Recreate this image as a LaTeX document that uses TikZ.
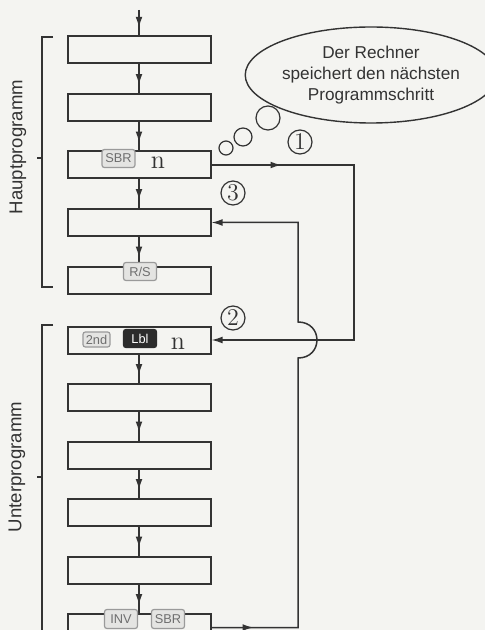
\documentclass[tikz,border=0pt]{standalone}
\usepackage{fontspec}
\setsansfont{Liberation Sans}
\usepackage{tikz}
\usetikzlibrary{arrows.meta,positioning,calc,shapes.geometric,decorations.markings}
\usepackage{xcolor}
\definecolor{Paper}{HTML}{F4F4F1}
\definecolor{Ink}{HTML}{333333}
\definecolor{KeyLine}{HTML}{9A9A9A}
\definecolor{KeyFill}{HTML}{E4E4E2}
\definecolor{KeyText}{HTML}{6E6E6E}
\definecolor{KeyDark}{HTML}{2C2C2C}

\begin{document}
\begin{tikzpicture}[x=0.5pt,y=-0.5pt,>={Latex[length=5.5pt,width=3.4pt]},
  color=Ink,line width=0.75pt,node distance=14.25pt,
  stepbox/.style={draw,rectangle,minimum width=71.5pt,minimum height=13.5pt,inner sep=0pt,line width=1pt},
  key/.style={draw=KeyLine,fill=KeyFill,text=KeyText,rounded corners=1.2pt,line width=0.6pt,
    minimum width=16.5pt,minimum height=9pt,inner sep=0.5pt,font=\sffamily\fontsize{6.4}{7}\selectfont},
  darkkey/.style={key,draw=KeyDark,fill=KeyDark,text=white},
  num/.style={circle,draw,minimum size=12pt,inner sep=0pt,line width=0.6pt,font=\large},
  puff/.style={circle,draw,inner sep=0pt,line width=0.6pt},
  arg/.style={font=\fontsize{13}{13}\selectfont,inner sep=0pt},
  side/.style={rotate=90,font=\sffamily\fontsize{9.3}{10}\selectfont},
  flow/.style={postaction={decorate},decoration={markings,mark=at position #1 with {\arrow{>}}}}]
  \path[use as bounding box,fill=Paper] (0,0) rectangle (485,630);
  % main program
  \node[stepbox] (b1) at (139,50) {};
  \node[stepbox,below=of b1] (b2) {};
  \node[stepbox,below=of b2] (b3) {};
  \node[stepbox,below=of b3] (b4) {};
  \node[stepbox,below=of b4] (b5) {};
  % subroutine
  \node[stepbox] (b6) at (139,340) {};
  \node[stepbox,below=of b6] (b7) {};
  \node[stepbox,below=of b7] (b8) {};
  \node[stepbox,below=of b8] (b9) {};
  \node[stepbox,below=of b9] (b10) {};
  \node[stepbox,below=of b10] (b11) {};
  \coordinate (start) at (139,10);
  \draw[flow=0.7] (start) -- (b1);
  \foreach \a/\b in {b1/b2,b2/b3,b3/b4,b4/b5,b6/b7,b7/b8,b8/b9,b9/b10,b10/b11}
    \draw[flow=0.72] (\a) -- (\b);
  \node[key] (sbrA) at (118.5,158.5) {SBR};
  \node[arg] (argA) at (158,163) {n};
  \node[key] (rs) at (140,271.5) {R/S};
  \node[key,minimum width=13.5pt,minimum height=7.5pt] (snd) at (96.5,339.5) {2nd};
  \node[darkkey] (lbl) at (140,338.5) {Lbl};
  \node[arg] (argB) at (178,344) {n};
  \node[key,minimum height=9.5pt] (inv) at (121,619) {INV};
  \node[key,minimum height=9.5pt] (sbrB) at (168,619) {SBR};
  % brackets
  \draw (53,37) -- (42,37) -- (42,287) -- (53,287);
  \draw (42,158) -- (37,158);
  \node[side] (haupt) at (18,147) {Hauptprogramm};
  \draw (53,325) -- (42,325) -- (42,640);
  \draw (42,477) -- (37,477);
  \node[side] (unter) at (17,467) {Unterprogramm};
  % jump out, jump back
  \draw[->,flow=35pt] (b3.east) -- ++(142.5,0) |- (b6.east);
  \coordinate (ret) at ($(b11.east)+(86.5,0)$);
  \draw[->,flow=21pt] (b11.east) -- (ret) -- ($(ret |- b6.east)+(0,18)$)
    to[out=0,in=0,looseness=1.8] ($(ret |- b6.east)+(0,-18)$) |- (b4.east);
  \node[num] (n1) at (300,142) {1};
  \node[num] (n2) at (233,318) {2};
  \node[num] (n3) at (233,193) {3};
  % thought bubble
  \node[ellipse,draw,line width=0.7pt,minimum width=111pt,minimum height=48pt,inner sep=0pt,align=center,
    font=\sffamily\fontsize{8.6}{10.5}\selectfont] (thought) at (371,75)
    {Der Rechner\\speichert den nächsten\\Programmschritt};
  \node[puff,minimum size=7pt] (p1) at (226,148) {};
  \node[puff,minimum size=9pt] (p2) at (243,137) {};
  \node[puff,minimum size=12pt] (p3) at (268,118) {};
\end{tikzpicture}
\end{document}
